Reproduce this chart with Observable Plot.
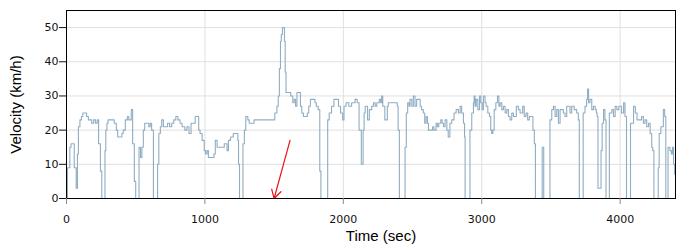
<!DOCTYPE html>
<html>
<head>
<meta charset="utf-8">
<script src="https://cdn.jsdelivr.net/npm/d3@7"></script>
<script src="https://cdn.jsdelivr.net/npm/@observablehq/plot@0.6"></script>
<style>
  html, body { margin: 0; padding: 0; background: #fff; }
</style>
</head>
<body>
<div id="chart"></div>
<script>
const timeSec = [0,7,24,33,56,70,79,86,97,108,118,145,158,182,196,210,222,232,245,255,278,284,292,300,345,360,370,400,410,425,440,450,468,478,490,500,524,535,545,555,565,595,605,615,628,658,667,678,688,700,730,745,760,775,790,805,820,835,855,870,885,900,930,955,965,980,995,1005,1015,1025,1065,1075,1088,1140,1160,1170,1185,1205,1238,1243,1250,1275,1285,1295,1310,1320,1355,1505,1520,1530,1538,1546,1552,1560,1575,1580,1586,1620,1635,1645,1655,1665,1690,1700,1712,1740,1750,1762,1795,1805,1818,1830,1838,1887,1898,1915,1932,1965,1980,1995,2005,2020,2040,2060,2085,2100,2114,2130,2143,2150,2158,2175,2188,2205,2218,2230,2242,2260,2270,2277,2285,2300,2318,2325,2390,2396,2405,2446,2455,2465,2475,2482,2495,2506,2518,2530,2555,2565,2578,2588,2598,2608,2615,2645,2655,2670,2680,2690,2704,2714,2724,2735,2748,2758,2770,2783,2800,2815,2832,2844,2855,2868,2876,2880,2915,2928,2940,2945,2952,2960,2972,2984,2993,3003,3012,3024,3032,3044,3056,3065,3072,3080,3090,3102,3114,3124,3133,3145,3157,3169,3181,3193,3205,3217,3229,3250,3265,3277,3296,3307,3320,3332,3344,3370,3380,3388,3437,3448,3493,3506,3518,3530,3542,3554,3566,3590,3602,3614,3638,3650,3668,3686,3698,3705,3733,3746,3758,3765,3772,3782,3795,3807,3820,3828,3834,3840,3862,3870,3880,3890,3898,3922,3940,3952,3964,3976,3990,4010,4025,4035,4046,4075,4097,4110,4122,4155,4168,4180,4192,4205,4217,4228,4236,4244,4275,4282,4294,4312,4322,4330,4346,4360,4370,4378,4386,4394,4400];
const velocityKmh = [0,9,15,16,9,3,13,21,23,24,25,24,23,22,23,22,23,16,8,0,14,20,22,23,22,20,18,19,20,23,24,23,26,16,5,0,15,12,15,20,22,21,22,20,0,10,19,21,23,21,22,21,22,23,24,23,22,21,20,21,19,22,24,20,19,17,14,13,14,12,13,17,15,16,14,17,18,19,17,10,0,16,20,24,23,22,23,25,27,30,38,46,48,50,46,37,31,30,28,29,27,31,27,25,24,25,27,29,28,27,26,8,0,23,25,27,29,27,25,23,27,28,27,28,29,28,20,10,20,25,27,23,26,27,28,27,28,29,28,30,27,23,27,28,27,20,0,15,25,28,27,29,27,30,27,29,27,26,25,22,24,22,20,21,20,22,21,22,23,22,21,23,20,18,22,23,25,26,25,27,25,22,18,0,20,25,28,30,27,29,26,30,28,26,30,28,27,25,24,20,19,20,26,28,30,27,28,26,27,25,26,24,23,25,24,27,26,25,27,24,25,23,24,20,16,0,15,0,23,26,27,24,26,22,26,25,24,27,25,27,26,25,23,0,25,27,29,32,28,29,26,27,26,25,24,3,14,22,26,23,0,25,26,24,27,26,27,25,28,24,0,22,27,25,23,24,22,23,21,22,19,15,14,0,9,19,21,26,24,0,15,14,13,15,10,7,7];

const xTicks = [0, 1000, 2000, 3000, 4000];
const yTicks = [0, 10, 20, 30, 40, 50];
const xDomain = [0, 4400];
const yDomain = [0, 55];
const xTitle = "Time (sec)";
const yTitle = "Velocity (km/h)";
const arrowStart = {t: 1615, v: 17};
const arrowEnd = {t: 1500, v: 0};

const rows = timeSec.map((t, i) => ({t, v: velocityKmh[i]}));

const chart = Plot.plot({
  width: 700,
  height: 250,
  marginLeft: 66,
  marginRight: 25,
  marginTop: 10,
  marginBottom: 52,
  style: {fontFamily: "DejaVu Sans, sans-serif", fontSize: "11px", color: "#222", background: "#fff"},
  x: {domain: xDomain, ticks: xTicks, label: null, tickFormat: d => String(d)},
  y: {domain: yDomain, ticks: yTicks, label: null, tickFormat: d => String(d)},
  marks: [
    Plot.gridX(xTicks, {stroke: "#e0e0e0", strokeOpacity: 1}),
    Plot.gridY(yTicks, {stroke: "#e0e0e0", strokeOpacity: 1}),
    Plot.line(rows, {x: "t", y: "v", curve: "step-after", stroke: "#8fadc3", strokeWidth: 1.1}),
    Plot.arrow([0], {x1: () => arrowStart.t, y1: () => arrowStart.v, x2: () => arrowEnd.t, y2: () => arrowEnd.v, stroke: "#e8141b", strokeWidth: 1.2, headLength: 12}),
    Plot.frame({stroke: "#000", strokeWidth: 1}),
    Plot.axisX(xTicks, {tickSize: 6, tickPadding: 11, stroke: "#888", fontSize: 11, label: null, fill: "#111", tickFormat: d => String(d)}),
    Plot.axisY(yTicks, {tickSize: 7, tickPadding: 1, stroke: "#111", fontSize: 11, label: null, fill: "#111", tickFormat: d => String(d)}),
    Plot.text([xTitle], {frameAnchor: "bottom", dx: 10, dy: 42, fontSize: 15, fontFamily: "Liberation Sans, Arial, sans-serif", fill: "#000"}),
    Plot.text([yTitle], {frameAnchor: "left", textAnchor: "middle", dx: -50, rotate: -90, fontSize: 15, fontFamily: "Liberation Sans, Arial, sans-serif", fill: "#000"})
  ]
});
document.getElementById("chart").appendChild(chart);
</script>
</body>
</html>
